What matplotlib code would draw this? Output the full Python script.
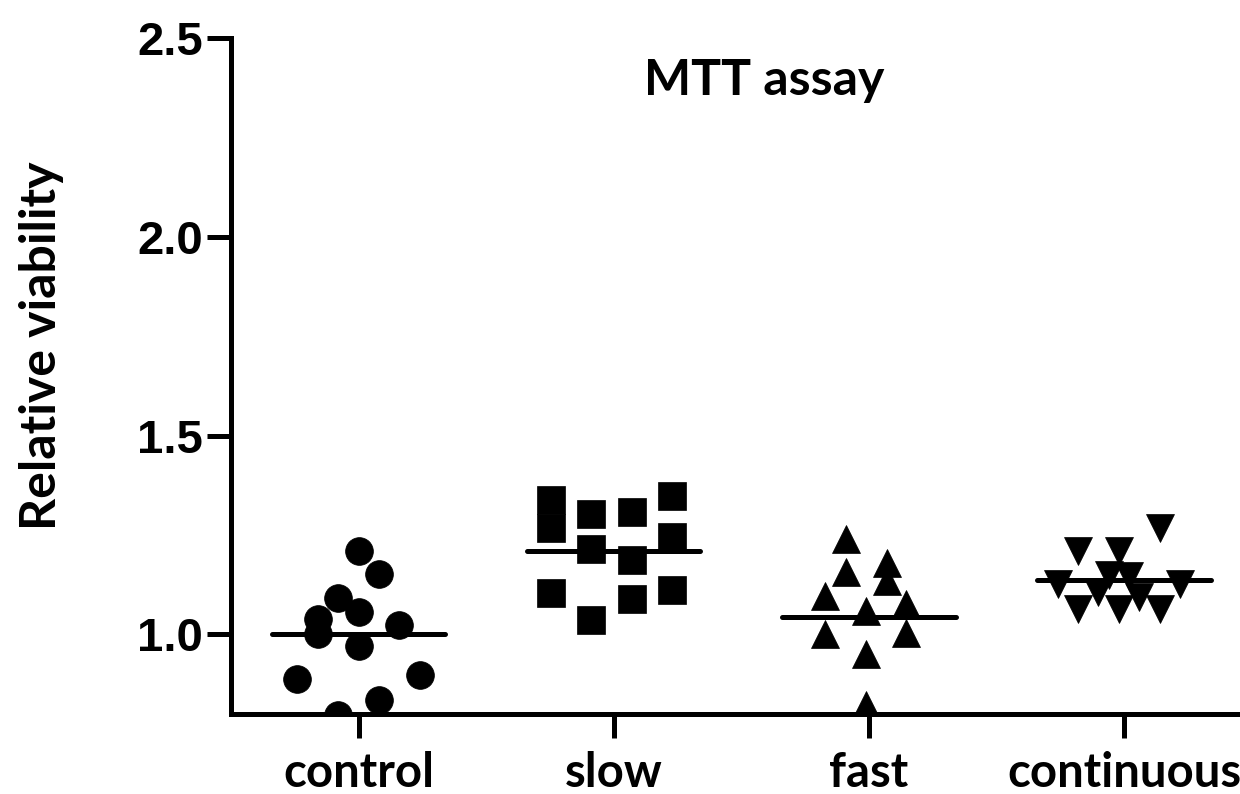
import matplotlib
matplotlib.use("Agg")
import matplotlib.pyplot as plt
import numpy as np

# groups and values
groups = ["control", "slow", "fast", "continuous"]
markers = ["o", "s", "^", "v"]

control_vals = [1.211, 1.153, 1.092, 1.056, 1.039, 1.000, 1.025, 0.972, 0.889, 0.897, 0.834, 0.797]
control_jit = [0.0, 0.08, -0.08, 0.0, -0.16, -0.16, 0.16, 0.0, -0.24, 0.24, 0.08, -0.08]

slow_vals = [1.339, 1.268, 1.303, 1.307, 1.347, 1.245, 1.214, 1.188, 1.104, 1.037, 1.090, 1.113]
slow_jit = [-0.245, -0.245, -0.09, 0.07, 0.23, 0.23, -0.09, 0.07, -0.245, -0.09, 0.07, 0.23]

fast_vals = [1.240, 1.157, 1.180, 1.135, 1.096, 1.059, 1.077, 1.000, 1.004, 0.951, 0.822]
fast_jit = [-0.09, -0.09, 0.07, 0.07, -0.17, -0.01, 0.145, -0.17, 0.145, -0.01, -0.01]

cont_vals = [1.268, 1.209, 1.211, 1.128, 1.128, 1.150, 1.147, 1.063, 1.063, 1.063, 1.108, 1.093]
cont_jit = [0.14, -0.18, -0.02, -0.26, 0.22, -0.06, 0.02, -0.18, -0.02, 0.14, -0.10, 0.06]

group_means = [1.000, 1.211, 1.044, 1.136]

yticks = [1.0, 1.5, 2.0, 2.5]

values = [control_vals, slow_vals, fast_vals, cont_vals]
jitters = [control_jit, slow_jit, fast_jit, cont_jit]

fig = plt.figure(figsize=(12.4, 7.94), dpi=100)
ax = fig.add_axes([0.1863, 0.1008, 0.823, 0.8513])

for i, (vals, jit, mk) in enumerate(zip(values, jitters, markers)):
    x = i + 1 + np.array(jit)
    ax.plot(x, vals, linestyle="none", marker=mk, markersize=20,
            color="black", markeredgewidth=0.5, zorder=3)
    # mean line
    ax.plot([i + 1 - 0.34, i + 1 + 0.34], [group_means[i]] * 2,
            color="black", lw=3.6, solid_capstyle="round", zorder=2)

ax.set_xlim(0.5, 4.5)
ax.set_ylim(0.8, 2.5)
ax.set_yticks(yticks)
ax.set_yticklabels([f"{t:.1f}" for t in yticks], fontfamily="Liberation Sans",
                   fontweight="bold", fontsize=34)
ax.set_xticks(range(1, 5))
ax.set_xticklabels(groups, fontfamily="Lato", fontweight="bold", fontsize=34)

for s in ["top", "right"]:
    ax.spines[s].set_visible(False)
for s in ["left", "bottom"]:
    ax.spines[s].set_linewidth(3.6)
ax.tick_params(axis="both", width=3.6, length=17, direction="out")
ax.tick_params(axis="x", pad=10)
ax.tick_params(axis="y", pad=3)

fig.text(42 / 1240, 1 - 346 / 794, "Relative viability", rotation=90,
         ha="center", va="center", fontfamily="Lato", fontweight="bold",
         fontsize=36)
ax.text(2.59, 2.394, "MTT assay", ha="center", va="center",
        fontfamily="Lato", fontweight="bold", fontsize=36)

fig.savefig("out.png", dpi=100)
